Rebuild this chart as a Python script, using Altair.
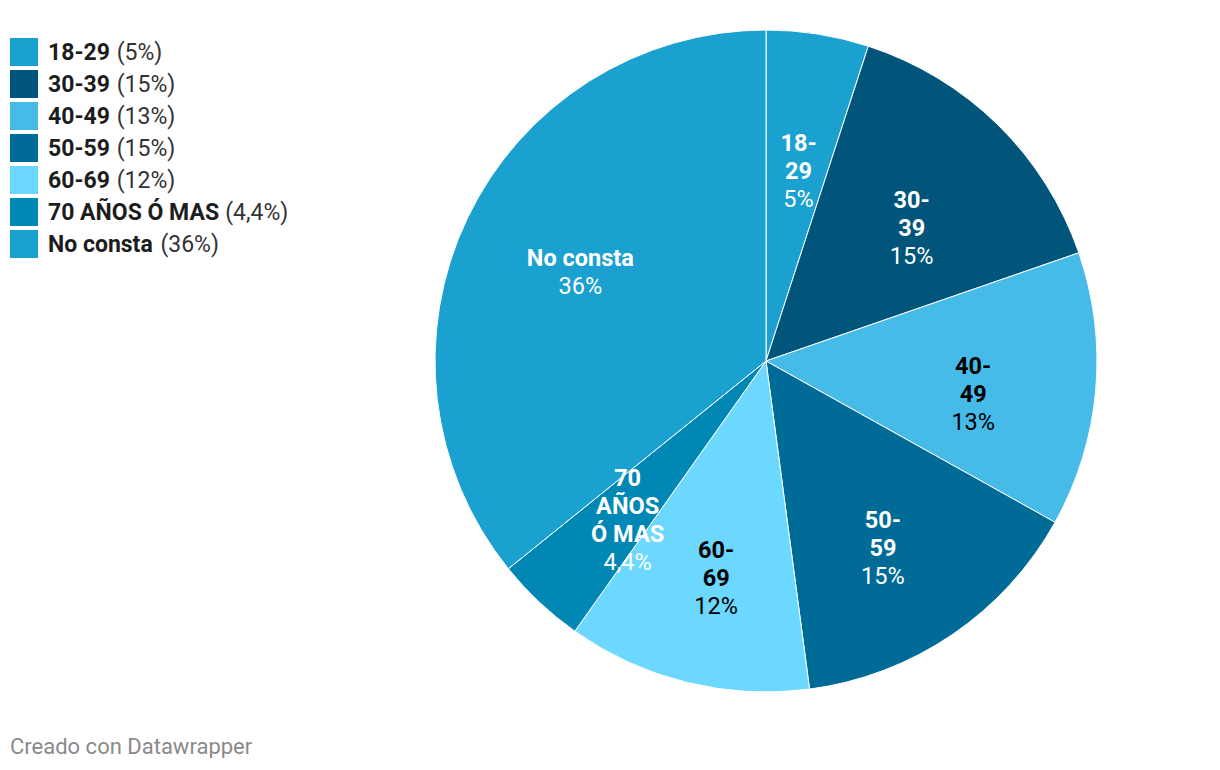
import altair as alt

# ---------------- data ----------------
categories = ["18-29", "30-39", "40-49", "50-59", "60-69", "70 AÑOS Ó MAS", "No consta"]
shares = [5.0, 14.7, 13.4, 14.8, 11.9, 4.4, 35.8]
pct_labels = ["5%", "15%", "13%", "15%", "12%", "4,4%", "36%"]
slice_name_lines = [["18-", "29"], ["30-", "39"], ["40-", "49"], ["50-", "59"],
                    ["60-", "69"], ["70", "AÑOS", "Ó MAS"], ["No consta"]]
footer_text = "Creado con Datawrapper"

# ---------------- styles ----------------
slice_colors = ["#1ba1cf", "#01557b", "#47bbe8", "#006b97", "#6cd7ff", "#0087b3", "#1ba1cf"]
label_colors = ["#ffffff", "#ffffff", "#000000", "#ffffff", "#000000", "#ffffff", "#ffffff"]
FONT = "Roboto"
LEG_FS = 23
LBL_FS = 23.5
LINE_H = 28
LBL_R = 208
# vertical offset of the first name line, by number of name lines
NAME_DY = {1: -12, 2: -12, 3: -34}
NAME_DX = {1: 2, 2: 0, 3: 4}

# approximate Roboto Bold advance widths (em) to place the regular "(x%)" after the bold name
BOLD_W = {"-": 0.30, " ": 0.248, "A": 0.67, "Ñ": 0.70, "N": 0.72, "O": 0.68, "Ó": 0.68,
          "S": 0.61, "M": 0.87, "o": 0.575, "c": 0.535, "n": 0.565, "s": 0.53, "t": 0.34,
          "a": 0.55}
for d in "0123456789":
    BOLD_W[d] = 0.61


def bold_width(s, fs):
    return sum(BOLD_W.get(ch, 0.58) for ch in s) * fs


rows = []
for i, cat in enumerate(categories):
    rows.append({
        "idx": i,
        "category": cat,
        "share": shares[i],
        "name_lines": slice_name_lines[i],
        "nlines": len(slice_name_lines[i]),
        "pct": pct_labels[i],
        "pct_paren": "(" + pct_labels[i] + ")",
        "pct_x": 40 + bold_width(cat + " ", LEG_FS),
    })

data = alt.Data(values=rows)
total = sum(shares)

# ---------------- pie ----------------
base = alt.Chart(data).encode(
    theta=alt.Theta("share:Q", stack=True, scale=alt.Scale(domain=[0, total])),
    order=alt.Order("idx:Q", sort="ascending"),
)
arcs = base.mark_arc(radius=331, stroke="white", strokeWidth=1).encode(
    color=alt.Color("category:N", scale=alt.Scale(domain=categories, range=slice_colors), legend=None)
)
lbl_color = alt.Color("category:N", scale=alt.Scale(domain=categories, range=label_colors), legend=None)

text_layers = []
for n in (1, 2, 3):
    name_dy = NAME_DY[n]
    pct_dy = name_dy + LINE_H * n
    text_layers.append(
        base.transform_calculate(t=f"datum.nlines == {n} ? datum.name_lines : ''")
        .mark_text(radius=LBL_R, font=FONT, fontSize=LBL_FS, fontWeight="bold",
                   lineHeight=LINE_H, align="center", baseline="middle",
                   dy=name_dy, dx=NAME_DX[n])
        .encode(text="t:N", color=lbl_color)
    )
    text_layers.append(
        base.transform_calculate(t=f"datum.nlines == {n} ? datum.pct : ''")
        .mark_text(radius=LBL_R, font=FONT, fontSize=LBL_FS, fontWeight="normal",
                   align="center", baseline="middle", dy=pct_dy, dx=NAME_DX[n])
        .encode(text="t:N", color=lbl_color)
    )

pie = alt.layer(arcs, *text_layers).resolve_scale(color="independent").properties(
    width=706, height=706)

# ---------------- legend ----------------
leg_base = alt.Chart(data).encode(
    y=alt.Y("category:N", sort=categories, axis=None,
            scale=alt.Scale(domain=categories, range=[28, 252], paddingInner=0, paddingOuter=0))
)
leg_sq = leg_base.mark_square(size=784, opacity=1).encode(
    x=alt.value(16),
    color=alt.Color("category:N", scale=alt.Scale(domain=categories, range=slice_colors), legend=None),
)
leg_name = leg_base.mark_text(align="left", baseline="middle", font=FONT, fontSize=LEG_FS,
                              fontWeight="bold", color="#1d1d1d", dy=1).encode(
    x=alt.value(40), text="category:N")
leg_pct = leg_base.mark_text(align="left", baseline="middle", font=FONT, fontSize=LEG_FS,
                             fontWeight="normal", color="#333333", dy=1).encode(
    x=alt.X("pct_x:Q", scale=None, axis=None), text="pct_paren:N")
legend = alt.layer(leg_sq, leg_name, leg_pct).properties(width=395, height=706)

chart = alt.hconcat(legend, pie, spacing=10).properties(
    padding=0,
    title=alt.TitleParams(footer_text, orient="bottom", anchor="start", font=FONT,
                          fontSize=22, fontWeight="normal", color="#8a8a8a", offset=23,
                          baseline="top", dx=2),
).configure_view(stroke=None).configure_concat(spacing=10)

chart.save("out.html", embed_options={"renderer": "svg", "actions": False})
